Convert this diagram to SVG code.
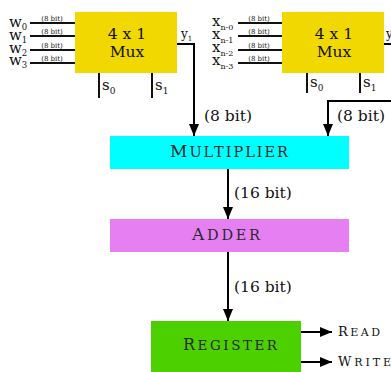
<svg xmlns="http://www.w3.org/2000/svg" width="391" height="372" viewBox="0 0 391 372">
  <style>
    .lbl { font-family: "DejaVu Serif", "Liberation Serif", serif; fill: #111; }
    .tiny { font-family: "DejaVu Serif", "Liberation Serif", serif; font-size: 7px; fill: #222; }
    .wire { stroke: #111; stroke-width: 2; fill: none; }
    .conn { stroke: #000; stroke-width: 2; fill: none; }
    .box-text { font-family: "DejaVu Serif", "Liberation Serif", serif; fill: #2a2a2a; }
  </style>
  <defs>
    <marker id="arrow" viewBox="0 0 12 10" refX="12" refY="5" markerWidth="12" markerHeight="10" markerUnits="userSpaceOnUse" orient="auto">
      <path d="M0,0 L12,5 L0,10 Z" fill="#000"/>
    </marker>
  </defs>

  <!-- first multiplexer: weights w0..w3 -->
  <g id="mux-w">
    <rect x="75" y="12" width="102" height="61" fill="#F0D800"/>
    <text class="lbl" x="127" y="39" font-size="15.5" text-anchor="middle">4 x 1</text>
    <text class="lbl" x="127" y="57" font-size="15.5" text-anchor="middle">Mux</text>
    <g class="wire">
      <line x1="30" y1="23" x2="75" y2="23"/>
      <line x1="30" y1="36" x2="75" y2="36"/>
      <line x1="30" y1="50" x2="75" y2="50"/>
      <line x1="30" y1="63" x2="75" y2="63"/>
      <line x1="99" y1="73" x2="99" y2="98"/>
      <line x1="152" y1="73" x2="152" y2="98"/>
    </g>
    <text class="tiny" x="52" y="21" text-anchor="middle">(8 bit)</text>
    <text class="tiny" x="52" y="34" text-anchor="middle">(8 bit)</text>
    <text class="tiny" x="52" y="48" text-anchor="middle">(8 bit)</text>
    <text class="tiny" x="52" y="61" text-anchor="middle">(8 bit)</text>
    <text class="lbl" x="9" y="27" font-size="15">w<tspan font-size="8.5" dy="3">0</tspan></text>
    <text class="lbl" x="9" y="40" font-size="15">w<tspan font-size="8.5" dy="3">1</tspan></text>
    <text class="lbl" x="9" y="53" font-size="15">w<tspan font-size="8.5" dy="3">2</tspan></text>
    <text class="lbl" x="9" y="65" font-size="15">w<tspan font-size="8.5" dy="3">3</tspan></text>
    <text class="lbl" x="102" y="90" font-size="15">s<tspan font-size="9" dy="4">0</tspan></text>
    <text class="lbl" x="155" y="90" font-size="15">s<tspan font-size="9" dy="4">1</tspan></text>
    <text class="lbl" x="181" y="38" font-size="12">y<tspan font-size="7" dy="3">1</tspan></text>
  </g>

  <!-- second multiplexer: inputs x(n-0)..x(n-3) -->
  <g id="mux-x">
    <rect x="282" y="12" width="102" height="61" fill="#F0D800"/>
    <text class="lbl" x="334" y="39" font-size="15.5" text-anchor="middle">4 x 1</text>
    <text class="lbl" x="334" y="57" font-size="15.5" text-anchor="middle">Mux</text>
    <g class="wire">
      <line x1="238" y1="23" x2="282" y2="23"/>
      <line x1="238" y1="36" x2="282" y2="36"/>
      <line x1="238" y1="50" x2="282" y2="50"/>
      <line x1="238" y1="63" x2="282" y2="63"/>
      <line x1="307" y1="73" x2="307" y2="93"/>
      <line x1="360" y1="73" x2="360" y2="93"/>
    </g>
    <text class="tiny" x="259" y="21" text-anchor="middle">(8 bit)</text>
    <text class="tiny" x="259" y="34" text-anchor="middle">(8 bit)</text>
    <text class="tiny" x="259" y="48" text-anchor="middle">(8 bit)</text>
    <text class="tiny" x="259" y="61" text-anchor="middle">(8 bit)</text>
    <text class="lbl" x="212" y="26" font-size="15">x<tspan font-size="8" dy="4">n-0</tspan></text>
    <text class="lbl" x="212" y="39" font-size="15">x<tspan font-size="8" dy="4">n-1</tspan></text>
    <text class="lbl" x="212" y="52" font-size="15">x<tspan font-size="8" dy="4">n-2</tspan></text>
    <text class="lbl" x="212" y="65" font-size="15">x<tspan font-size="8" dy="4">n-3</tspan></text>
    <text class="lbl" x="310" y="87" font-size="15">s<tspan font-size="9" dy="4">0</tspan></text>
    <text class="lbl" x="363" y="87" font-size="15">s<tspan font-size="9" dy="4">1</tspan></text>
    <text class="lbl" x="386" y="38" font-size="12">y</text>
  </g>

  <g id="multiplier">
    <rect x="110" y="136" width="239" height="33" fill="#00FFFF"/>
    <text class="box-text" x="170" y="157" textLength="118" lengthAdjust="spacing"><tspan font-size="17">M</tspan><tspan font-size="14.5">ULTIPLIER</tspan></text>
  </g>

  <g id="adder">
    <rect x="110" y="219" width="239" height="33" fill="#E680F2"/>
    <text class="box-text" x="192" y="240" textLength="68" lengthAdjust="spacing"><tspan font-size="17">A</tspan><tspan font-size="14.5">DDER</tspan></text>
  </g>

  <g id="register">
    <rect x="151" y="321" width="150" height="51" fill="#4CD000"/>
    <text class="box-text" x="183" y="350" textLength="94" lengthAdjust="spacing"><tspan font-size="16">R</tspan><tspan font-size="13.5">EGISTER</tspan></text>
  </g>

  <g id="read">
    <text class="lbl" x="338" y="336" textLength="42" lengthAdjust="spacing"><tspan font-size="13">R</tspan><tspan font-size="11">EAD</tspan></text>
  </g>
  <g id="write">
    <text class="lbl" x="338" y="366" textLength="53" lengthAdjust="spacing"><tspan font-size="13">W</tspan><tspan font-size="11">RITE</tspan></text>
  </g>

  <g id="connectors">
    <polyline class="conn" points="177,44 194,44 194,136" marker-end="url(#arrow)"/>
    <line class="conn" x1="384" y1="44" x2="391" y2="44"/>
    <polyline class="conn" points="391,101 328,101 328,136" marker-end="url(#arrow)"/>
    <line class="conn" x1="228" y1="169" x2="228" y2="219" marker-end="url(#arrow)"/>
    <line class="conn" x1="228" y1="252" x2="228" y2="321" marker-end="url(#arrow)"/>
    <line class="conn" x1="301" y1="332" x2="332" y2="332" marker-end="url(#arrow)"/>
    <line class="conn" x1="301" y1="362" x2="332" y2="362" marker-end="url(#arrow)"/>
    <text class="lbl" x="204" y="121" font-size="15.5">(8 bit)</text>
    <text class="lbl" x="337" y="121" font-size="15.5">(8 bit)</text>
    <text class="lbl" x="234" y="198" font-size="15.5">(16 bit)</text>
    <text class="lbl" x="234" y="292" font-size="15.5">(16 bit)</text>
  </g>
</svg>
